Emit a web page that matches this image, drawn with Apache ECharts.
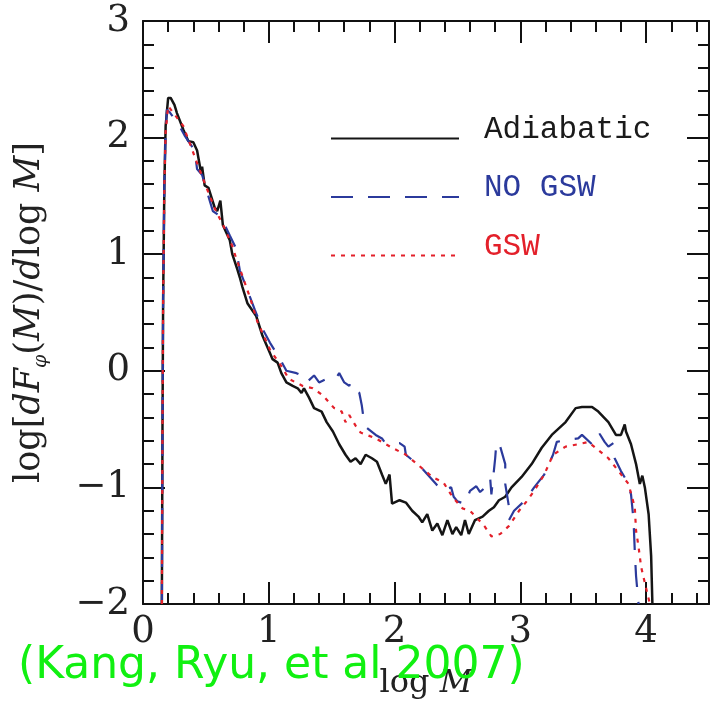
<!DOCTYPE html>
<html>
<head>
<meta charset="utf-8">
<script src="https://cdn.jsdelivr.net/npm/echarts@6/dist/echarts.min.js"></script>
<style>
  html, body { margin: 0; padding: 0; background: #fff; }
  #chart { width: 712px; height: 705px; }
</style>
</head>
<body>
<div id="chart"></div>
<script>
// Mass distribution of gas clumps: log M vs log[dF/dlog M], three simulation runs.
const seriesNames = ['Adiabatic', 'NO GSW', 'GSW'];

const adiabatic = [
  [0.15,-2.0],[0.155,-0.5],[0.16,0.6],[0.17,1.6],[0.18,2.1],[0.2,2.34],[0.22,2.34],[0.25,2.28],
  [0.27,2.21],[0.32,2.07],[0.36,1.97],[0.4,1.96],[0.43,1.89],[0.46,1.71],[0.47,1.75],[0.49,1.59],
  [0.52,1.57],[0.57,1.40],[0.59,1.37],[0.615,1.46],[0.635,1.25],[0.66,1.19],[0.69,1.12],[0.71,1.0],
  [0.75,0.87],[0.77,0.80],[0.79,0.72],[0.83,0.58],[0.9,0.47],[0.95,0.30],[1.01,0.15],[1.03,0.10],
  [1.07,0.07],[1.10,-0.02],[1.14,-0.10],[1.19,-0.13],[1.23,-0.15],[1.26,-0.19],[1.28,-0.15],
  [1.32,-0.23],[1.36,-0.32],[1.42,-0.35],[1.46,-0.44],[1.51,-0.52],[1.56,-0.63],[1.61,-0.72],
  [1.65,-0.78],[1.69,-0.75],[1.73,-0.80],[1.77,-0.72],[1.82,-0.75],[1.86,-0.78],[1.90,-0.89],
  [1.93,-0.97],[1.96,-0.89],[1.98,-1.14],[2.04,-1.11],[2.09,-1.13],[2.14,-1.20],[2.19,-1.25],
  [2.22,-1.30],[2.26,-1.23],[2.30,-1.37],[2.34,-1.31],[2.38,-1.41],[2.42,-1.28],[2.46,-1.40],
  [2.49,-1.34],[2.53,-1.41],[2.56,-1.28],[2.59,-1.40],[2.64,-1.28],[2.70,-1.25],[2.75,-1.20],
  [2.79,-1.17],[2.83,-1.11],[2.88,-1.08],[2.93,-1.00],[3.01,-0.91],[3.09,-0.80],[3.17,-0.66],
  [3.25,-0.55],[3.36,-0.44],[3.44,-0.32],[3.49,-0.31],[3.57,-0.31],[3.62,-0.35],[3.70,-0.44],
  [3.76,-0.55],[3.80,-0.55],[3.83,-0.46],[3.84,-0.52],[3.88,-0.63],[3.92,-0.80],[3.95,-0.97],
  [3.97,-0.90],[3.99,-1.00],[4.02,-1.23],[4.04,-1.59],[4.05,-2.0]
];

const noGsw = [
  [0.15,-2.0],[0.155,-0.5],[0.16,0.6],[0.17,1.6],[0.18,2.05],[0.19,2.24],[0.21,2.22],[0.28,2.12],
  [0.33,2.02],[0.41,1.89],[0.43,1.73],[0.47,1.68],[0.555,1.37],[0.62,1.32],[0.69,1.16],[0.74,1.05],
  [0.77,0.86],[0.82,0.72],[0.89,0.52],[0.95,0.36],[1.01,0.24],[1.09,0.10],[1.14,0.0],[1.22,-0.02],
  [1.26,-0.04],[1.30,-0.10],[1.36,-0.04],[1.40,-0.10],[1.46,-0.07],[1.50,-0.06],[1.53,-0.07],
  [1.56,-0.02],[1.60,-0.10],[1.64,-0.13],[1.65,-0.10],[1.67,-0.15],[1.72,-0.19],[1.74,-0.30],
  [1.75,-0.38],[1.78,-0.49],[1.85,-0.55],[1.90,-0.58],[1.92,-0.61],[2.04,-0.62],[2.08,-0.65],
  [2.09,-0.72],[2.18,-0.80],[2.23,-0.85],[2.33,-0.97],[2.37,-1.03],[2.45,-1.00],[2.47,-1.08],
  [2.50,-1.12],[2.56,-1.14],[2.60,-1.03],[2.65,-0.99],[2.68,-1.04],[2.75,-0.97],[2.76,-0.92],
  [2.77,-1.06],[2.80,-0.75],[2.81,-0.61],[2.84,-0.65],[2.88,-0.80],[2.88,-0.97],[2.91,-1.17],
  [2.91,-1.28],[2.95,-1.20],[3.03,-1.12],[3.11,-1.00],[3.19,-0.89],[3.26,-0.72],[3.29,-0.61],
  [3.38,-0.59],[3.46,-0.58],[3.49,-0.55],[3.58,-0.64],[3.63,-0.54],[3.67,-0.61],[3.70,-0.65],
  [3.74,-0.62],[3.75,-0.75],[3.80,-0.86],[3.85,-0.95],[3.88,-1.06],[3.90,-1.28],[3.91,-1.55],
  [3.92,-1.76],[3.94,-2.0]
];

const gsw = [
  [0.15,-2.0],[0.155,-0.5],[0.16,0.6],[0.17,1.6],[0.18,2.05],[0.2,2.27],[0.25,2.2],[0.32,2.10],
  [0.39,1.90],[0.43,1.78],[0.53,1.50],[0.58,1.37],[0.65,1.22],[0.71,1.07],[0.73,1.00],[0.85,0.63],
  [0.91,0.42],[1.01,0.18],[1.10,0.04],[1.16,-0.07],[1.27,-0.13],[1.35,-0.15],[1.43,-0.21],
  [1.52,-0.32],[1.58,-0.35],[1.61,-0.44],[1.64,-0.38],[1.69,-0.47],[1.73,-0.53],[1.85,-0.58],
  [1.98,-0.66],[2.09,-0.72],[2.19,-0.81],[2.30,-0.91],[2.39,-0.96],[2.46,-1.08],[2.54,-1.18],
  [2.60,-1.20],[2.67,-1.28],[2.72,-1.34],[2.77,-1.42],[2.84,-1.40],[2.91,-1.33],[2.99,-1.20],
  [3.05,-1.12],[3.11,-1.03],[3.19,-0.89],[3.26,-0.72],[3.36,-0.65],[3.46,-0.63],[3.54,-0.61],
  [3.62,-0.68],[3.70,-0.75],[3.78,-0.86],[3.86,-0.97],[3.91,-1.17],[3.92,-1.37],[3.94,-1.51],
  [3.96,-1.68],[3.99,-1.82],[4.03,-2.0]
];

const xTickLabels = ['0', '1', '2', '3', '4'];
const yTickLabels = ['\u22122', '\u22121', '0', '1', '2', '3'];
const citation = '(Kang, Ryu, et al 2007)';

const serif = '"DejaVu Serif", "Liberation Serif", serif';
const mono = '"Liberation Mono", "DejaVu Sans Mono", monospace';

const frameLine = { show: true, onZero: false, lineStyle: { color: '#111', width: 2 } };
const majorTick = { show: true, inside: true, length: 22, lineStyle: { color: '#111', width: 2 } };
const minorTick = { show: true, splitNumber: 5, length: 11, lineStyle: { color: '#111', width: 2 } };

function xLabel(v) {
  const i = Math.round(v);
  return Math.abs(v - i) < 1e-6 && i >= 0 && i < xTickLabels.length ? xTickLabels[i] : '';
}
function yLabel(v) {
  const i = Math.round(v) + 2;
  return Math.abs(v + 2 - i) < 1e-6 ? yTickLabels[i] : '';
}

const chart = echarts.init(document.getElementById('chart'), null, { renderer: 'canvas' });
chart.setOption({
  backgroundColor: '#fff',
  animation: false,
  grid: { left: 143, top: 21, width: 567, height: 591, containLabel: false },
  legend: {
    orient: 'vertical',
    left: 330,
    top: 114,
    padding: 0,
    itemWidth: 128,
    itemHeight: 20,
    itemGap: 26,
    itemStyle: { opacity: 0 },
    formatter: '{t|{name}}',
    textStyle: {
      fontFamily: mono, fontSize: 31,
      rich: { t: { fontFamily: mono, fontSize: 31, padding: [0, 0, 18, 20] } }
    },
    data: [
      { name: seriesNames[0], textStyle: { color: '#1a1a1a' } },
      { name: seriesNames[1], textStyle: { color: '#2b3a9c' } },
      { name: seriesNames[2], textStyle: { color: '#e3202a' } }
    ]
  },
  xAxis: [
    {
      type: 'value', min: 0, max: 4.5, interval: 1, position: 'bottom',
      axisLine: frameLine, axisTick: majorTick, minorTick: minorTick, splitLine: { show: false },
      axisLabel: { formatter: xLabel, fontFamily: serif, fontSize: 37, color: '#222', margin: 10 },
      name: '{n|log }{i|M}', nameLocation: 'middle', nameGap: 64,
      nameTextStyle: {
        rich: {
          n: { fontFamily: serif, fontSize: 32, color: '#222' },
          i: { fontFamily: serif, fontSize: 32, fontStyle: 'italic', color: '#222' }
        }
      }
    },
    {
      type: 'value', min: 0, max: 4.5, interval: 1, position: 'top',
      axisLine: frameLine, axisTick: majorTick, minorTick: minorTick, splitLine: { show: false },
      axisLabel: { show: false }
    }
  ],
  yAxis: [
    {
      type: 'value', min: -2, max: 3, interval: 1, position: 'left',
      axisLine: frameLine, axisTick: majorTick, minorTick: minorTick, splitLine: { show: false },
      axisLabel: { formatter: yLabel, fontFamily: serif, fontSize: 37, color: '#222', margin: 13 },
      name: '{n|log[}{i|dF}{s|\u03c6}{n|(}{i|M}{n|)/}{i|d}{n|log }{i|M}{n|]}',
      nameLocation: 'middle', nameRotate: 90, nameGap: 92,
      nameTextStyle: {
        rich: {
          n: { fontFamily: serif, fontSize: 35, color: '#222', lineHeight: 42 },
          i: { fontFamily: serif, fontSize: 35, fontStyle: 'italic', color: '#222', lineHeight: 42 },
          s: { fontFamily: serif, fontSize: 19, fontStyle: 'italic', color: '#222', lineHeight: 42, verticalAlign: 'bottom' }
        }
      }
    },
    {
      type: 'value', min: -2, max: 3, interval: 1, position: 'right',
      axisLine: frameLine, axisTick: majorTick, minorTick: minorTick, splitLine: { show: false },
      axisLabel: { show: false }
    }
  ],
  series: [
    {
      name: seriesNames[0], type: 'line', data: adiabatic, symbol: 'none',
      lineStyle: { color: '#151515', width: 2.5 }, itemStyle: { color: '#151515' }, z: 3
    },
    {
      name: seriesNames[1], type: 'line', data: noGsw, symbol: 'none',
      lineStyle: { color: '#2b3a9c', width: 2.2, type: [22, 15] }, itemStyle: { color: '#2b3a9c' }, z: 4
    },
    {
      name: seriesNames[2], type: 'line', data: gsw, symbol: 'none',
      lineStyle: { color: '#e3202a', width: 2.2, type: [4, 6] }, itemStyle: { color: '#e3202a' }, z: 5
    }
  ],
  graphic: [
    {
      type: 'text', left: 18, top: 645, z: 100,
      style: {
        text: citation,
        fontFamily: '"DejaVu Sans", "Noto Sans", sans-serif',
        fontSize: 44,
        fill: '#11f011'
      }
    }
  ]
});
</script>
</body>
</html>
